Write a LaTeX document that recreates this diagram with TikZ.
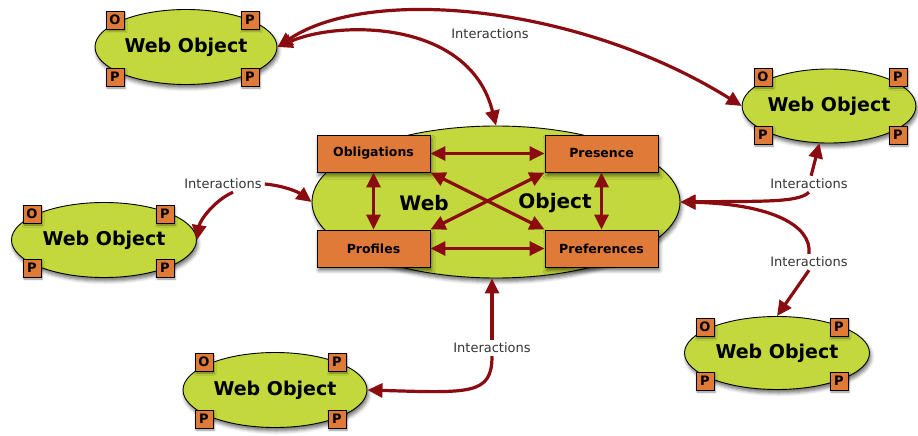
\documentclass[tikz,border=0pt]{standalone}
\usepackage{fontspec}
\setmainfont{DejaVu Sans}
\usetikzlibrary{arrows.meta,shapes.geometric,shadows.blur}

\definecolor{wogreen}{HTML}{C2D83C}
\definecolor{portorange}{HTML}{E07A38}
\definecolor{linkred}{HTML}{8A0B10}
\definecolor{labelgray}{HTML}{333333}

\begin{document}
\begin{tikzpicture}[x=1pt,y=-1pt,
  tri/.tip={Triangle[length=15pt,width=14pt]},
  softshadow/.style={blur shadow={shadow xshift=1.5pt, shadow yshift=-3.5pt,
      shadow blur radius=3.5pt, shadow opacity=55}},
  obj/.style={ellipse, draw=black, line width=0.9pt, fill=wogreen, inner sep=0pt,
      softshadow, font=\bfseries\fontsize{19}{20}\selectfont},
  port/.style={draw=black, line width=0.9pt, fill=portorange, minimum size=18pt,
      inner sep=0pt, blur shadow={shadow xshift=1pt, shadow yshift=-2pt,
      shadow blur radius=2pt, shadow opacity=45},
      font=\bfseries\fontsize{13}{13}\selectfont},
  facet/.style={draw=black, line width=0.9pt, fill=portorange, minimum width=113pt,
      minimum height=37pt, inner sep=0pt, softshadow,
      font=\bfseries\fontsize{12.5}{12.5}\selectfont},
  bigword/.style={inner sep=0pt, font=\bfseries\fontsize{20}{20}\selectfont},
  lbl/.style={inner sep=3pt, text=labelgray, font=\fontsize{13}{13}\selectfont},
  link/.style={draw=linkred, line width=3.2pt},
  ]
\useasboundingbox (0,0) rectangle (918,436);

% ---- central web object -------------------------------------------------
\node[obj, minimum width=368pt, minimum height=152pt] (cen) at (496,202) {};
\node[bigword] (wword) at (424,203) {Web};
\node[bigword] (oword) at (555,203) {Object};
\node[facet] (obl)  at (373.5,153.5) {Obligations};
\node[facet] (pres) at (601.5,153.5) {Presence};
\node[facet] (prof) at (373.5,248.5) {Profiles};
\node[facet] (pref) at (601.5,248.5) {Preferences};

% ---- surrounding web objects with their ports --------------------------
\node[obj, minimum width=182pt, minimum height=75pt] (wo1) at (186,47) {Web Object};
\node[port] (wo1a) at (115,20) {O};
\node[port] (wo1b) at (250,20) {P};
\node[port] (wo1c) at (115,77) {P};
\node[port] (wo1d) at (250,77) {P};

\node[obj, minimum width=172pt, minimum height=74pt] (wo2) at (829,106) {Web Object};
\node[port] (wo2a) at (763,77) {O};
\node[port] (wo2b) at (898,77) {P};
\node[port] (wo2c) at (763,135) {P};
\node[port] (wo2d) at (898,135) {P};

\node[obj, minimum width=185pt, minimum height=75pt] (wo3) at (104,240) {Web Object};
\node[port] (wo3a) at (32,214) {O};
\node[port] (wo3b) at (165,214) {P};
\node[port] (wo3c) at (32,268) {P};
\node[port] (wo3d) at (165,268) {P};

\node[obj, minimum width=185pt, minimum height=73pt] (wo4) at (777,353) {Web Object};
\node[port] (wo4a) at (705,327) {O};
\node[port] (wo4b) at (839,327) {P};
\node[port] (wo4c) at (705,381) {P};
\node[port] (wo4d) at (839,381) {P};

\node[obj, minimum width=184pt, minimum height=75pt] (wo5) at (275,390) {Web Object};
\node[port] (wo5a) at (204,362) {O};
\node[port] (wo5b) at (337,362) {P};
\node[port] (wo5c) at (204,419) {P};
\node[port] (wo5d) at (337,419) {P};

% ---- interaction labels --------------------------------------------------
\node[lbl] (lt) at (490,34)  {Interactions};
\node[lbl] (ll) at (223,184) {Interactions};
\node[lbl] (lr1) at (809,184) {Interactions};
\node[lbl] (lr2) at (809,262) {Interactions};
\node[lbl] (lb) at (492,348) {Interactions};

% ---- links between the facets of the central object ----------------------
\draw[link, tri-tri] (obl.east) -- (pres.west);
\draw[link, tri-tri] (prof.east) -- (pref.west);
\draw[link, tri-tri] (obl.south) -- (prof.north);
\draw[link, tri-tri] (pres.south) -- (pref.north);
\draw[link, tri-tri] (obl.south east) -- (pref.north west);
\draw[link, tri-tri] (pres.south west) -- (prof.north east);

% ---- interactions between objects ---------------------------------------
\draw[link, tri-tri] (wo1.east) .. controls (370,-15) and (580,5) .. (wo2.west);
\draw[link, tri-tri] (wo1.east) .. controls (340,20) and (470,20) .. (cen.north);

\draw[link, -tri] (ll.east) .. controls (285,186) and (298,192) .. (cen.west);
\draw[link, -tri] ([xshift=10pt]ll.south) .. controls (215,200) and (200,220) .. (wo3.east);

\draw[link, -tri] (lr1) -- (wo2);
\draw[link, -tri] (lr1.south) .. controls (798,203) and (760,201) .. (cen.east);
\draw[link, -tri] (lr2.north) .. controls (812,225) and (770,204) .. (cen.east);
\draw[link, -tri] (lr2.south) -- (wo4.north);

\draw[link, -tri] (lb.north) -- (lb.north |- cen.south);
\draw[link, -tri] (lb.south) .. controls (492,395) and (470,393) .. (wo5.east);
\end{tikzpicture}
\end{document}
